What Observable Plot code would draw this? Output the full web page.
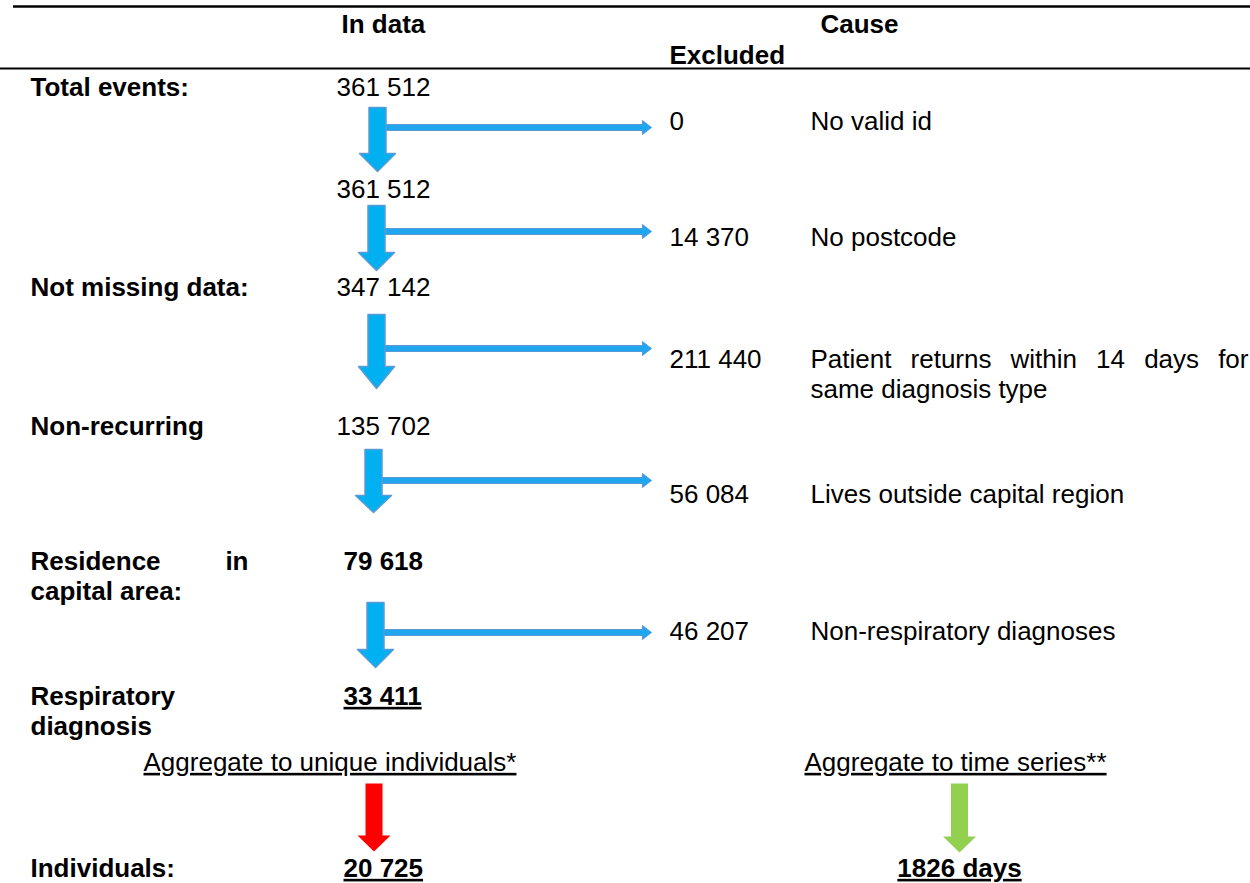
<!DOCTYPE html>
<html>
<head>
<meta charset="utf-8">
<script src="https://cdn.jsdelivr.net/npm/d3@7"></script>
<script src="https://cdn.jsdelivr.net/npm/@observablehq/plot@0.6"></script>
<style>
  html, body { margin: 0; padding: 0; background: #fff; overflow: hidden; }
  #chart svg { display: block; }
</style>
</head>
<body>
<div id="chart"></div>
<script>
// ---------- data ----------
const headers = ["In data", "Excluded", "Cause"];
const stepLabels = ["Total events:", "", "Not missing data:", "Non-recurring", "Residence in\ncapital area:", "Respiratory\ndiagnosis"];
const inDataCounts = ["361 512", "361 512", "347 142", "135 702", "79 618", "33 411"];
const excludedCounts = ["0", "14 370", "211 440", "56 084", "46 207"];
const exclusionCauses = ["No valid id", "No postcode", "Patient returns within 14 days for\nsame diagnosis type", "Lives outside capital region", "Non-respiratory diagnoses"];
const aggregations = ["Aggregate to unique individuals*", "Aggregate to time series**"];
const outputLabel = "Individuals:";
const outputCounts = ["20 725", "1826 days"];

// ---------- layout (code, not data) ----------
const W = 1250, H = 883;
const FS = 26, LH = 30;
const labelX = 30, countX = 336, boldCountX = 343, exclX = 669, causeX = 810;
const rowY = [87, 189, 287, 426, 561, 696];
const exclY = [121, 237, 359, 494, 631];
const downArrows = [
  {cx: 377, top: 107, headTop: 153, tip: 171, bar: 127},
  {cx: 376, top: 205, headTop: 252, tip: 270, bar: 231},
  {cx: 376, top: 314, headTop: 366, tip: 388, bar: 348},
  {cx: 373, top: 449, headTop: 495, tip: 512, bar: 480},
  {cx: 375, top: 602, headTop: 649, tip: 667, bar: 632}
];
const aggX = [143, 804], aggY = 762;
const outY = 868;
const outArrows = [
  {cx: 373.5, top: 783, headTop: 835, tip: 851, color: "#FF0000"},
  {cx: 959, top: 783, headTop: 836, tip: 852, color: "#92D050"}
];

// ---------- build mark tables ----------
const texts = [];
function addLines(str, x, y, opts) {
  const lines = str.split("\n");
  lines.forEach((line, i) => {
    if (line) texts.push({x, y: y + i * LH, text: line, bold: false, anchor: "start", ...opts, last: i === lines.length - 1});
  });
}
addLines(headers[0], 341, 24, {bold: true});
addLines(headers[1], exclX, 55, {bold: true});
addLines(headers[2], 820, 24, {bold: true});
stepLabels.forEach((s, i) => { if (s) addLines(s, labelX, rowY[i], {bold: true, justify: 218}); });
inDataCounts.forEach((c, i) => {
  const bold = i >= 4;
  addLines(c, bold ? boldCountX : countX, rowY[i], {bold, underline: i === inDataCounts.length - 1});
});
excludedCounts.forEach((c, i) => addLines(c, exclX, exclY[i], {}));
exclusionCauses.forEach((c, i) => addLines(c, causeX, exclY[i], {justify: 438}));
aggregations.forEach((a, i) => addLines(a, aggX[i], aggY, {underline: true}));
addLines(outputLabel, labelX, outY, {bold: true});
addLines(outputCounts[0], boldCountX, outY, {bold: true, underline: true});
addLines(outputCounts[1], outArrows[1].cx, outY, {bold: true, underline: true, anchor: "middle"});

// polygons
function downPoly(id, a, sw, hw) {
  const pts = [[a.cx - sw, a.top], [a.cx + sw, a.top], [a.cx + sw, a.headTop], [a.cx + hw, a.headTop], [a.cx, a.tip], [a.cx - hw, a.headTop], [a.cx - sw, a.headTop], [a.cx - sw, a.top]];
  return pts.map(([x, y]) => ({id, x, y}));
}
function rightPoly(id, x0, x1, y, bh, hh, hl) {
  const xb = x1 - hl;
  const pts = [[x0, y - bh], [xb, y - bh], [xb, y - hh], [x1, y], [xb, y + hh], [xb, y + bh], [x0, y + bh], [x0, y - bh]];
  return pts.map(([x, yy]) => ({id, x, y: yy}));
}
const hPolys = [], vPolys = [];
downArrows.forEach((a, i) => {
  hPolys.push(...rightPoly("h" + i, a.cx + 8, 651, a.bar, 3, 7, 9));
  vPolys.push(...downPoly("v" + i, a, 8.5, 18));
});
const outPolys = outArrows.map((a, i) => ({a, pts: downPoly("o" + i, a, 8.5, 16.5)}));

const textMarks = [];
for (const bold of [false, true]) {
  for (const anchor of ["start", "middle"]) {
    const sub = texts.filter(d => d.bold === bold && d.anchor === anchor);
    if (sub.length) textMarks.push(Plot.text(sub, {
      x: "x", y: "y", text: "text", textAnchor: anchor, fontSize: FS, fill: "#000",
      fontWeight: bold ? "bold" : "normal"
    }));
  }
}

const svg = Plot.plot({
  width: W, height: H, margin: 0,
  x: {domain: [0, W], range: [0, W], axis: null},
  y: {domain: [0, H], range: [0, H], axis: null},
  style: {fontFamily: "'Liberation Sans', Arial, sans-serif", background: "#fff", overflow: "visible"},
  marks: [
    Plot.ruleY([6], {x1: 13, x2: W, stroke: "#000", strokeWidth: 2.5}),
    Plot.ruleY([68], {x1: 0, x2: W, stroke: "#000", strokeWidth: 2}),
    Plot.line(hPolys, {x: "x", y: "y", z: "id", fill: "#1FA6EE", stroke: "#5B9BD5", strokeWidth: 1, curve: "linear"}),
    Plot.line(vPolys, {x: "x", y: "y", z: "id", fill: "#00B0F0", stroke: "#5B9BD5", strokeWidth: 1.5, curve: "linear"}),
    ...outPolys.map(o => Plot.line(o.pts, {x: "x", y: "y", z: "id", fill: o.a.color, stroke: "none", curve: "linear"})),
    ...textMarks
  ]
});
document.getElementById("chart").appendChild(svg);

// text decoration / justification
const byText = new Map(texts.map(d => [d.text, d]));
svg.querySelectorAll("text").forEach(t => {
  const d = byText.get(t.textContent);
  if (!d) return;
  if (d.underline) t.style.textDecoration = "underline";
  if (d.justify && !d.last) {
    const spaces = (d.text.match(/ /g) || []).length;
    if (spaces > 0) {
      const len = t.getComputedTextLength();
      t.setAttribute("word-spacing", ((d.justify - len) / spaces).toFixed(2));
    }
  }
});
</script>
</body>
</html>
